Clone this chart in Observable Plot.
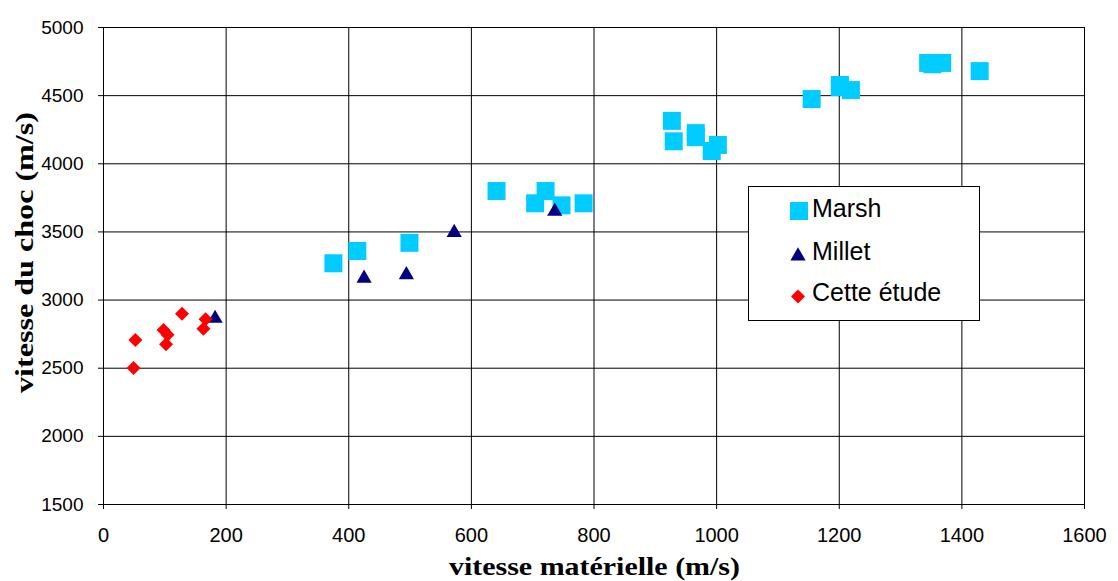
<!DOCTYPE html>
<html>
<head>
<meta charset="utf-8">
<script src="https://cdn.jsdelivr.net/npm/d3@7"></script>
<script src="https://cdn.jsdelivr.net/npm/@observablehq/plot@0.6"></script>
<style>
  html, body { margin: 0; padding: 0; background: #fff; }
  #chart svg { display: block; }
</style>
</head>
<body>
<div id="chart"></div>
<script>
// ---- Data ----
const seriesNames = ["Marsh", "Millet", "Cette étude"];
const seriesColors = ["#00CCFF", "#000080", "#FF0000"];

const marshX = [375, 414, 499, 641, 704, 721, 747, 783, 927, 930, 966, 966, 992, 1002, 1155, 1201, 1201, 1219, 1345, 1352, 1368, 1429];
const marshY = [3270, 3360, 3420, 3800, 3710, 3800, 3695, 3710, 4315, 4165, 4225, 4195, 4094, 4138, 4475, 4578, 4563, 4541, 4740, 4730, 4740, 4680];

const milletX = [182, 425, 494, 572, 736];
const milletY = [2865, 3160, 3185, 3495, 3650];

const etudeX = [49, 52, 98, 104.5, 102, 128, 166.5, 163];
const etudeY = [2502, 2707, 2780, 2745, 2675, 2900, 2860, 2790];

const xTicks = [0, 200, 400, 600, 800, 1000, 1200, 1400, 1600];
const yTicks = [1500, 2000, 2500, 3000, 3500, 4000, 4500, 5000];

const xTitle = "vitesse matérielle (m/s)";
const yTitle = "vitesse du choc (m/s)";

// ---- Build tables ----
const rows = (xs, ys, s) => xs.map((x, i) => ({x, y: ys[i], s}));
const marsh = rows(marshX, marshY, seriesNames[0]);
const millet = rows(milletX, milletY, seriesNames[1]);
const etude = rows(etudeX, etudeY, seriesNames[2]);

const symbols = [d3.symbolSquare, d3.symbolTriangle, d3.symbolDiamond2];
const symbolSizes = [324, 100, 125]; // areas in px^2
const rOf = (a) => Math.sqrt(a / Math.PI);

const gridStyle = {stroke: "#000", strokeOpacity: 1, strokeWidth: 1};

const plot = Plot.plot({
  width: 1118,
  height: 581,
  marginLeft: 103,
  marginRight: 34,
  marginTop: 27,
  marginBottom: 77,
  style: {fontFamily: "'Liberation Sans', Arial, sans-serif", background: "#fff", color: "#000", overflow: "visible"},
  x: {domain: [0, 1600]},
  y: {domain: [1500, 5000]},
  marks: [
    Plot.gridX(xTicks, gridStyle),
    Plot.gridY(yTicks, gridStyle),
    Plot.axisX(xTicks, {tickSize: 5, tickPadding: 18, label: null, fontSize: 20, tickFormat: (d) => String(d)}),
    Plot.axisY(yTicks, {tickSize: 5, tickPadding: 15, label: null, fontSize: 19, tickFormat: (d) => String(d)}),
    Plot.dot(marsh, {x: "x", y: "y", symbol: symbols[0], r: rOf(symbolSizes[0]), fill: seriesColors[0], stroke: "none"}),
    Plot.dot(millet, {x: "x", y: "y", symbol: symbols[1], r: rOf(symbolSizes[1]), fill: seriesColors[1], stroke: "none"}),
    Plot.dot(etude, {x: "x", y: "y", symbol: symbols[2], r: rOf(symbolSizes[2]), fill: seriesColors[2], stroke: "none"})
  ]
});

const svg = d3.select(plot);
svg.selectAll('g[aria-label="x-axis tick label"] text').style("font-size", "20px");
svg.selectAll('g[aria-label="y-axis tick label"] text').style("font-size", "19px");

// Axis titles
svg.append("text")
  .attr("x", 594.5).attr("y", 575)
  .attr("text-anchor", "middle")
  .attr("textLength", 291).attr("lengthAdjust", "spacingAndGlyphs")
  .style("font-family", "'Liberation Serif', 'DejaVu Serif', serif")
  .style("font-weight", "bold").style("font-size", "25px").style("fill", "#000")
  .text(xTitle);

svg.append("text")
  .attr("transform", "translate(33,252.5) rotate(-90)")
  .attr("text-anchor", "middle")
  .attr("textLength", 281).attr("lengthAdjust", "spacingAndGlyphs")
  .style("font-family", "'Liberation Serif', 'DejaVu Serif', serif")
  .style("font-weight", "bold").style("font-size", "25px").style("fill", "#000")
  .text(yTitle);

// Legend
const lg = svg.append("g").attr("aria-label", "legend").attr("text-anchor", "start");
lg.append("rect").attr("x", 748.5).attr("y", 186.5).attr("width", 231).attr("height", 134)
  .attr("fill", "#fff").attr("stroke", "#000").attr("stroke-width", 1);
const legendSym = [[799, 211], [798, 256], [798, 296.5]];
const legendBase = [216.5, 260, 300.5];
seriesNames.forEach((name, i) => {
  lg.append("path")
    .attr("transform", `translate(${legendSym[i][0]},${legendSym[i][1]})`)
    .attr("d", d3.symbol(symbols[i], symbolSizes[i])())
    .attr("fill", seriesColors[i]);
  lg.append("text")
    .attr("x", 812).attr("y", legendBase[i])
    .attr("text-anchor", "start")
    .style("font-family", "'Liberation Sans', Arial, sans-serif")
    .style("font-size", "25px").style("fill", "#000")
    .text(name);
});

document.getElementById("chart").appendChild(plot);
</script>
</body>
</html>
